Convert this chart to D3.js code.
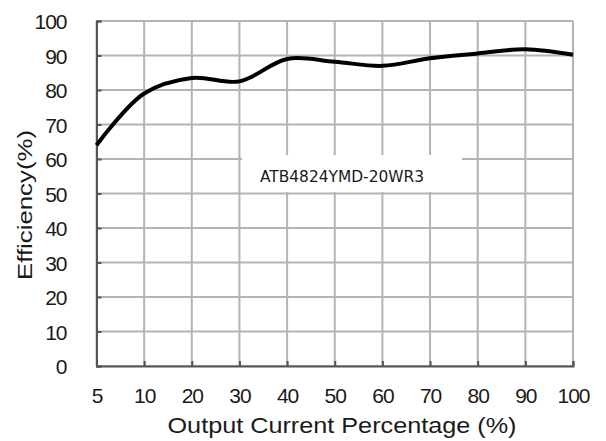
<!DOCTYPE html>
<html>
<head>
<meta charset="utf-8">
<script src="https://cdn.jsdelivr.net/npm/d3@7"></script>
<style>
  body { margin: 0; background: #fff; }
  text { fill: #1a1a1a; }
</style>
</head>
<body>
<div id="container"></div>
<script>
const canvasWidth = 606;
const canvasHeight = 441;

// x categories (output current %) and efficiency
let currentPct = ['5','10','20','30','40','50','60','70','80','90','100'];
let efficiency = [64, 79, 83.5, 82.5, 89, 88.2, 87, 89.2, 90.6, 91.8, 90.2];
let yTicks = [0,10,20,30,40,50,60,70,80,90,100];
let modelName = 'ATB4824YMD-20WR3';

let plotLeft = 96.5, plotRight = 573, plotTop = 21, plotBottom = 366;

let svg = d3.select('#container')
  .append('svg')
  .attr('width', canvasWidth)
  .attr('height', canvasHeight);

let x = d3.scalePoint().domain(currentPct).range([plotLeft, plotRight]);
let y = d3.scaleLinear().domain([0, 100]).range([plotBottom, plotTop]);

let tickFont = 'Liberation Sans, Arial, sans-serif';

// grid
let grid = svg.append('g').attr('class', 'grid');
grid.selectAll('.hline').data(yTicks).enter()
  .append('line')
  .attr('x1', plotLeft).attr('x2', plotRight)
  .attr('y1', d => y(d)).attr('y2', d => y(d))
  .style('stroke', '#b4b4b4').style('stroke-width', 2);
grid.selectAll('.vline').data(currentPct).enter()
  .append('line')
  .attr('x1', d => x(d)).attr('x2', d => x(d))
  .attr('y1', plotTop).attr('y2', plotBottom)
  .style('stroke', '#b4b4b4').style('stroke-width', 2);

// axes with inward ticks
let yAxis = d3.axisLeft(y).tickValues(yTicks).tickSize(-5).tickPadding(30);
let xAxis = d3.axisBottom(x).tickSize(-5).tickPadding(22);

let gy = svg.append('g').attr('transform', 'translate(' + plotLeft + ',0)').call(yAxis);
let gx = svg.append('g').attr('transform', 'translate(0,' + plotBottom + ')').call(xAxis);

[gy, gx].forEach(function(g){
  g.select('.domain').style('stroke', '#555').style('stroke-width', 2);
  g.selectAll('.tick line').style('stroke', '#555').style('stroke-width', 2);
  g.selectAll('.tick text')
    .style('font-family', tickFont)
    .style('font-size', '21px')
    .style('letter-spacing', '-1px')
    .style('fill', '#1a1a1a');
});
gy.selectAll('.tick text').attr('dy', '0.36em');

// model label box
svg.append('rect')
  .attr('x', 242).attr('y', 155)
  .attr('width', 220).attr('height', 37)
  .style('fill', '#fff');
svg.append('text')
  .attr('x', 260).attr('y', 181.5)
  .attr('textLength', 164).attr('lengthAdjust', 'spacingAndGlyphs')
  .style('font-family', 'DejaVu Sans, sans-serif')
  .style('font-size', '15px')
  .text(modelName);

// efficiency curve
let line = d3.line()
  .x((d, i) => x(currentPct[i]))
  .y(d => y(d))
  .curve(d3.curveCatmullRom.alpha(0.5));

svg.append('path')
  .datum(efficiency)
  .attr('d', line)
  .style('fill', 'none')
  .style('stroke', '#000')
  .style('stroke-width', 4)
  .style('stroke-linejoin', 'round');

// axis titles
svg.append('text')
  .attr('x', 342).attr('y', 433)
  .attr('text-anchor', 'middle')
  .attr('textLength', 349).attr('lengthAdjust', 'spacingAndGlyphs')
  .style('font-family', tickFont)
  .style('font-size', '22px')
  .text('Output Current Percentage (%)');

svg.append('text')
  .attr('transform', 'translate(32,205) rotate(-90)')
  .attr('text-anchor', 'middle')
  .attr('textLength', 150).attr('lengthAdjust', 'spacingAndGlyphs')
  .style('font-family', tickFont)
  .style('font-size', '20px')
  .text('Efficiency(%)');
</script>
</body>
</html>
